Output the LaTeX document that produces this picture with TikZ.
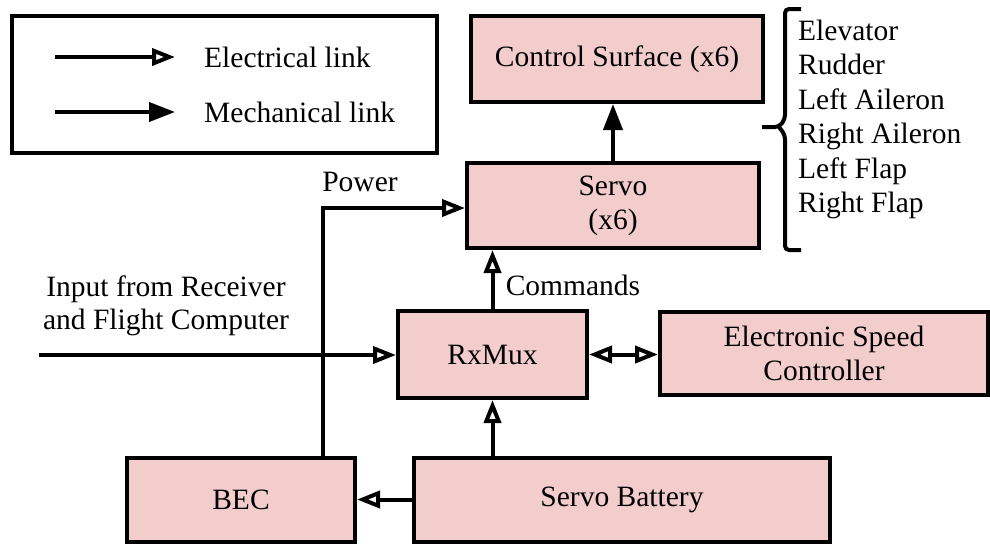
\documentclass[tikz,border=0pt]{standalone}
\usepackage{fontspec}
\setmainfont{Liberation Serif}
\usetikzlibrary{arrows.meta}
\definecolor{boxpink}{RGB}{243,204,204}
\tikzset{
  blk/.style={draw=black, fill=boxpink, line width=4pt, inner sep=0pt, align=center,
    font=\fontsize{29.5}{34}\selectfont},
  lbl/.style={inner sep=0pt, font=\fontsize{29.5}{34}\selectfont},
  conn/.style={line width=4pt},
  etip/.tip={Triangle[open,length=23pt,width=17pt,line width=4pt]},
  elec/.style={conn, -etip},
  elec2/.style={conn, etip-etip},
  mech/.style={conn, -{Triangle[length=26pt,width=19pt]}},
}
\begin{document}
\begin{tikzpicture}[x=1pt,y=-1pt]
\useasboundingbox (0,0) rectangle (990,544);
% legend
\node[draw=black, line width=4pt, minimum width=425pt, minimum height=137pt, inner sep=0pt] (legend) at (224.5,84.5) {};
\coordinate (e1) at (55,57);
\coordinate (e2) at (175,57);
\coordinate (m1) at (55,112);
\coordinate (m2) at (175,112);
\draw[elec] (e1) -- (e2);
\draw[mech] (m1) -- (m2);
\node[lbl, anchor=west] (elabel) at (204,57) {Electrical link};
\node[lbl, anchor=west] (mlabel) at (204,112) {Mechanical link};
% blocks
\node[blk, minimum width=292pt, minimum height=86pt] (cs) at (617,59) {Control Surface (x6)};
\node[blk, minimum width=292pt, minimum height=85pt] (servo) at (613,205.5) {Servo\\(x6)};
\node[blk, minimum width=189pt, minimum height=87pt] (rx) at (492.5,354.5) {RxMux};
\node[blk, minimum width=328pt, minimum height=83pt] (esc) at (824,353.5) {Electronic Speed\\Controller};
\node[blk, minimum width=228pt, minimum height=84pt] (bec) at (241,500) {BEC};
\node[blk, minimum width=416pt, minimum height=84pt] (sb) at (622,499.5) {Servo Battery};
% connectors
\draw[mech] (servo.north) -- (servo.north |- cs.south);
\draw[elec] (rx.north) -- (rx.north |- servo.south);
\node[lbl] (cmd) at (573,285) {Commands};
\coordinate (pw) at (323,208);
\draw[elec] (bec.north -| pw) |- (servo.west |- pw);
\node[lbl] (power) at (360,182) {Power};
\coordinate (inp) at (39,355);
\draw[elec] (inp) -- (rx.west |- inp);
\node[lbl, align=center, font=\fontsize{29.5}{33}\selectfont] (inlabel) at (166,306) {Input from Receiver\\and Flight Computer};
\draw[elec2] (rx.east) -- (esc.west |- rx.east);
\draw[elec] (sb.north -| rx.south) -- (rx.south);
\draw[elec] (sb.west) -- (bec.east |- sb.west);
% brace
\draw[line width=4pt, rounded corners=4pt] (801,9) -- (785,9) -- (785,119) -- (779,127) -- (762,127);
\draw[line width=4pt, rounded corners=4pt] (779,127) -- (785,135) -- (785,250) -- (801,250);
\node[lbl, anchor=west, align=left, font=\fontsize{29.5}{34.4}\selectfont] (list) at (798,119.5) {Elevator\\Rudder\\Left Aileron\\Right Aileron\\Left Flap\\Right Flap};
\end{tikzpicture}
\end{document}
